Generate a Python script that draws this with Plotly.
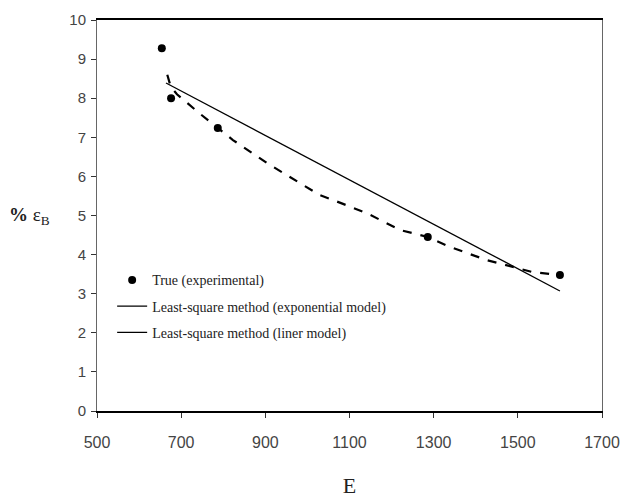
import plotly.graph_objects as go

# Experimental points
true_E = [654, 676, 787, 1286, 1600]
true_eps = [9.28, 8.0, 7.24, 4.45, 3.48]

# Least-square exponential model (dashed curve)
exp_E = [667, 675, 690, 745, 823, 904, 982, 1030, 1060, 1141, 1220, 1286, 1338, 1426, 1536, 1600]
exp_eps = [8.6, 8.3, 8.1, 7.6, 6.93, 6.34, 5.83, 5.52, 5.40, 5.06, 4.63, 4.45, 4.2, 3.86, 3.55, 3.48]

# Least-square linear model
lin_E = [664, 1600]
lin_eps = [8.39, 3.07]

x_ticks = [500, 700, 900, 1100, 1300, 1500, 1700]
y_ticks = [0, 1, 2, 3, 4, 5, 6, 7, 8, 9, 10]

fig = go.Figure()
fig.add_trace(go.Scatter(x=true_E, y=true_eps, mode="markers",
                         marker=dict(color="black", size=8),
                         name="True (experimental)", legendgroup="a"))
fig.add_trace(go.Scatter(x=exp_E, y=exp_eps, mode="lines",
                         line=dict(color="black", width=2.2, dash="dash"),
                         showlegend=False))
fig.add_trace(go.Scatter(x=lin_E, y=lin_eps, mode="lines",
                         line=dict(color="black", width=1.3),
                         showlegend=False))
fig.add_trace(go.Scatter(x=[None], y=[None], mode="lines",
                         line=dict(color="black", width=1.3), legendgroup="b",
                         name="Least-square method (exponential model)"))
fig.add_trace(go.Scatter(x=[None], y=[None], mode="lines",
                         line=dict(color="black", width=1.3), legendgroup="c",
                         name="Least-square method (liner model)"))

fig.update_layout(
    width=623, height=499,
    margin=dict(l=97, r=21, t=20, b=88, autoexpand=False),
    paper_bgcolor="white", plot_bgcolor="white",
    showlegend=True,
    legend=dict(x=0.03, y=0.375, xanchor="left", yanchor="top",
                font=dict(family="Liberation Serif", size=14, color="#222"),
                bgcolor="rgba(0,0,0,0)", tracegroupgap=5, itemwidth=30),
    xaxis=dict(range=[500, 1700], tickvals=x_ticks, showgrid=False, zeroline=False,
               showline=True, linecolor="black", linewidth=1.5, mirror=True,
               ticks="outside", ticklen=5, tickcolor="#333", ticklabelstandoff=11,
               tickfont=dict(family="Liberation Sans", size=16, color="#444"),
               title=dict(text="E", font=dict(family="Liberation Serif", size=22, color="#222"),
                          standoff=28)),
    yaxis=dict(range=[0, 10], tickvals=y_ticks, showgrid=False, zeroline=False,
               showline=True, linecolor="#666", linewidth=1, mirror=True,
               ticks="outside", ticklen=5, tickcolor="#333", ticklabelstandoff=2,
               tickfont=dict(family="Liberation Sans", size=15, color="#444")),
    annotations=[dict(xref="paper", yref="paper", x=-0.09, y=0.5, xanchor="right",
                      yanchor="middle", showarrow=False,
                      text="<b>%</b> ε<sub>B</sub>",
                      font=dict(family="Liberation Serif", size=19, color="#222"))],
)

fig.write_html("out.html")
